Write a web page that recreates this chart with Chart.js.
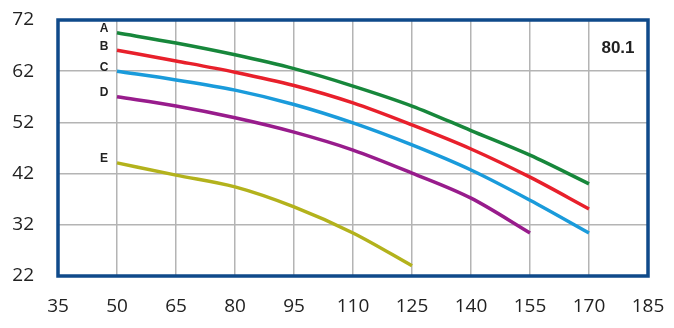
<!DOCTYPE html>
<html>
<head>
<meta charset="utf-8">
<script src="https://cdn.jsdelivr.net/npm/chart.js@4.4.0/dist/chart.umd.min.js"></script>
<style>
  html, body { margin: 0; padding: 0; background: #fff; }
  #wrap { width: 674px; height: 328px; }
</style>
</head>
<body>
<div id="wrap"><canvas id="curveChart"></canvas></div>
<script>
// flow values (x) and head readings for each curve
const flowAE = [50, 65, 80, 95, 110, 125, 140, 155, 170];
const flowD = [50, 65, 80, 95, 110, 125, 140, 155];
const flowE = [50, 65, 80, 95, 110, 125];

const curveA = [69.5, 67.5, 65.2, 62.5, 59.1, 55.2, 50.4, 45.6, 40.0];
const curveB = [66.1, 64.0, 61.8, 59.2, 55.8, 51.5, 46.8, 41.3, 35.1];
const curveC = [62.0, 60.3, 58.3, 55.5, 51.9, 47.6, 42.7, 36.8, 30.4];
const curveD = [57.0, 55.2, 52.9, 50.1, 46.6, 42.1, 37.2, 30.4];
const curveE = [44.1, 41.7, 39.4, 35.5, 30.4, 24.0];

const curveNames = ['A', 'B', 'C', 'D', 'E'];
const modelLabel = '80.1';

const xTicks = [35, 50, 65, 80, 95, 110, 125, 140, 155, 170, 185];
const yTicks = [22, 32, 42, 52, 62, 72];

function toPoints(xs, ys) {
    return ys.map((y, i) => ({ x: xs[i], y: y }));
}

const lineColors = ['#17873b', '#e8202b', '#1a9bdb', '#981c8c', '#b3b21c'];

// frame round the plot area, curve letters and model label
const framePlugin = {
    id: 'framePlugin',
    afterDraw(chart) {
        const ctx = chart.ctx;
        const a = chart.chartArea;
        ctx.save();
        ctx.strokeStyle = '#0f4a8a';
        ctx.lineWidth = 3.5;
        ctx.strokeRect(a.left, a.top, a.right - a.left, a.bottom - a.top);

        ctx.fillStyle = '#222';
        ctx.font = 'bold 12px "Liberation Sans", Arial, sans-serif';
        ctx.textAlign = 'center';
        ctx.textBaseline = 'middle';
        chart.data.datasets.forEach((ds, i) => {
            const meta = chart.getDatasetMeta(i);
            const p = meta.data[0];
            ctx.fillText(curveNames[i], p.x - 13, p.y - 4);
        });

        ctx.font = 'bold 17px "Liberation Sans", Arial, sans-serif';
        ctx.fillText(modelLabel, a.right - 30, a.top + 28);
        ctx.restore();
    }
};

const ctx = document.getElementById('curveChart').getContext('2d');
const chart = new Chart(ctx, {
    type: 'line',
    data: {
        datasets: [
            { label: 'A', data: toPoints(flowAE, curveA) },
            { label: 'B', data: toPoints(flowAE, curveB) },
            { label: 'C', data: toPoints(flowAE, curveC) },
            { label: 'D', data: toPoints(flowD, curveD) },
            { label: 'E', data: toPoints(flowE, curveE) }
        ].map((ds, i) => Object.assign(ds, {
            borderColor: lineColors[i],
            borderWidth: 3.5,
            pointRadius: 0,
            cubicInterpolationMode: 'monotone',
            fill: false
        }))
    },
    options: {
        responsive: true,
        maintainAspectRatio: false,
        animation: false,
        layout: { padding: { top: 20, right: 26, left: 0, bottom: 0 } },
        plugins: { legend: { display: false }, tooltip: { enabled: false } },
        scales: {
            x: {
                type: 'linear',
                min: xTicks[0],
                max: xTicks[xTicks.length - 1],
                afterBuildTicks: (axis) => { axis.ticks = xTicks.map(v => ({ value: v })); },
                afterFit: (axis) => { axis.height = 52; },
                grid: { color: '#b4b4b4', lineWidth: 1.5, drawTicks: true, tickLength: 19, tickColor: 'rgba(0,0,0,0)' },
                border: { display: false },
                ticks: {
                    color: '#222',
                    padding: 0,
                    maxRotation: 0,
                    font: { family: '"Open Sans", sans-serif', size: 19 }
                }
            },
            y: {
                min: yTicks[0],
                max: yTicks[yTicks.length - 1],
                afterBuildTicks: (axis) => { axis.ticks = yTicks.map(v => ({ value: v })); },
                afterFit: (axis) => { axis.width = 58; },
                grid: { color: '#b4b4b4', lineWidth: 1.5, drawTicks: true, tickLength: 24, tickColor: 'rgba(0,0,0,0)' },
                border: { display: false },
                ticks: {
                    color: '#222',
                    padding: 0,
                    font: { family: '"Open Sans", sans-serif', size: 19 }
                }
            }
        }
    },
    plugins: [framePlugin]
});
</script>
</body>
</html>
